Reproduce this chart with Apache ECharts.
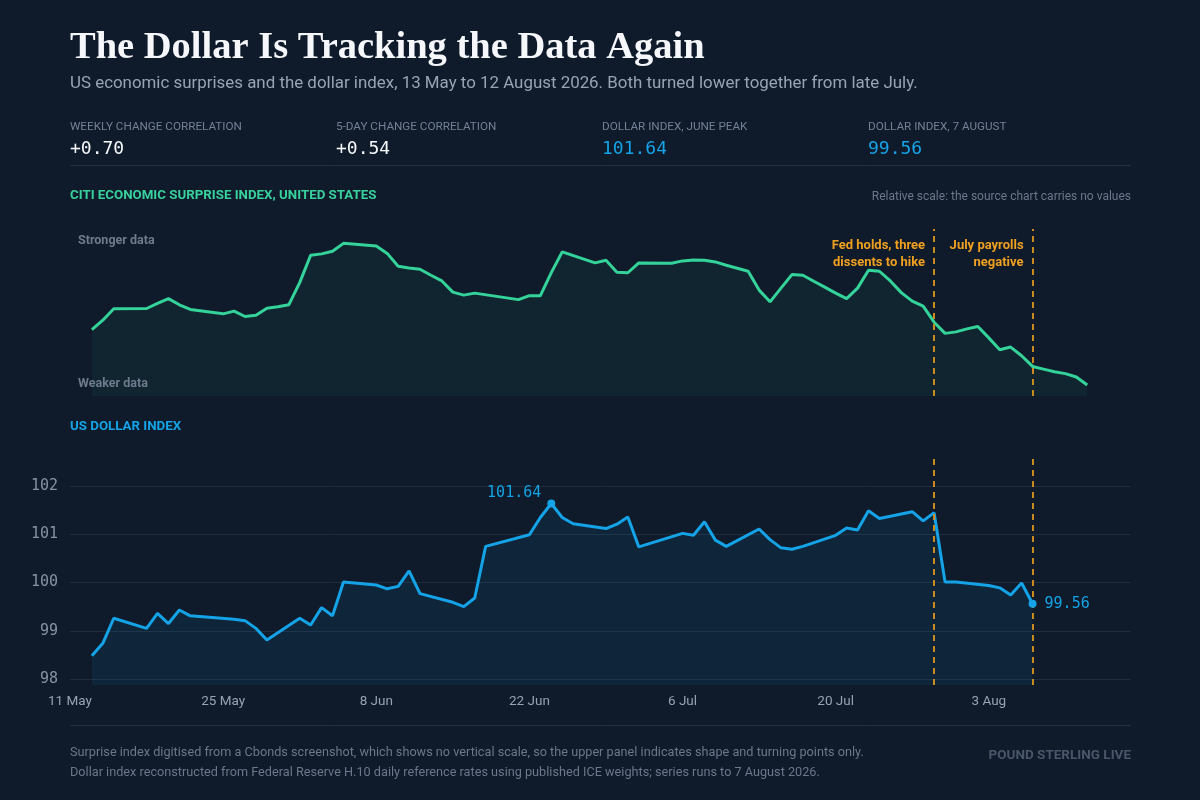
<!DOCTYPE html>
<html>
<head>
<meta charset="utf-8">
<title>The Dollar Is Tracking the Data Again</title>
<script src="https://cdn.jsdelivr.net/npm/echarts@6/dist/echarts.min.js"></script>
<style>
    html, body { margin: 0; padding: 0; background: #0f1a2a; }
    #chart { width: 1200px; height: 800px; }
</style>
</head>
<body>
<div id="chart"></div>
<script>
// x positions are days counted from 11 May 2026
const startDate = '2026-05-11';
const xTickLabels = ['11 May', '25 May', '8 Jun', '22 Jun', '6 Jul', '20 Jul', '3 Aug'];
const yTickValues = [98, 99, 100, 101, 102];

// Citi surprise index: relative level, 0 = bottom, 100 = top
const surpriseDates = [
    '2026-05-13', '2026-05-14', '2026-05-15', '2026-05-18', '2026-05-19', '2026-05-20', '2026-05-21', '2026-05-22',
    '2026-05-25', '2026-05-26', '2026-05-27', '2026-05-28', '2026-05-29', '2026-05-30', '2026-05-31',
    '2026-06-01', '2026-06-02', '2026-06-03', '2026-06-04', '2026-06-05', '2026-06-08', '2026-06-09', '2026-06-10',
    '2026-06-11', '2026-06-12', '2026-06-13', '2026-06-14', '2026-06-15', '2026-06-16', '2026-06-17', '2026-06-21',
    '2026-06-22', '2026-06-23', '2026-06-24', '2026-06-25', '2026-06-28', '2026-06-29', '2026-06-30',
    '2026-07-01', '2026-07-02', '2026-07-05', '2026-07-06', '2026-07-07', '2026-07-08', '2026-07-09', '2026-07-10',
    '2026-07-11', '2026-07-12', '2026-07-13', '2026-07-14', '2026-07-15', '2026-07-16', '2026-07-17', '2026-07-18',
    '2026-07-19', '2026-07-20', '2026-07-21', '2026-07-22', '2026-07-23', '2026-07-24', '2026-07-25', '2026-07-26',
    '2026-07-27', '2026-07-28', '2026-07-29', '2026-07-30', '2026-07-31',
    '2026-08-01', '2026-08-02', '2026-08-03', '2026-08-04', '2026-08-05', '2026-08-06', '2026-08-07', '2026-08-08',
    '2026-08-09', '2026-08-10', '2026-08-11', '2026-08-12'
];
const surpriseLevels = [
    39.8, 45.4, 52.2, 52.4, 55.4, 58.3, 54.6, 51.8,
    49.2, 50.8, 47.6, 48.4, 52.6, 53.4, 54.6,
    67.9, 84.3, 85.1, 86.7, 91.4, 89.8, 85.4, 77.7,
    76.7, 75.9, 72.3, 68.9, 62.2, 60.4, 61.6, 57.7,
    60.1, 60.1, 73.9, 86.3, 79.7, 81.3, 74.1,
    73.8, 79.7, 79.5, 80.9, 81.5, 81.3, 80.3, 78.3,
    76.5, 74.7, 63.4, 56.4, 64.6, 72.7, 72.3, 68.7,
    65.2, 61.6, 58.3, 64.6, 75.3, 74.7, 68.9, 61.9,
    56.8, 53.8, 44.2, 37.5, 38.4,
    40.2, 41.6, 34.8, 27.7, 29.3, 24.1, 17.7, 16.1,
    14.5, 13.4, 11.4, 6.6
];

// US dollar index, daily
const dxyDates = [
    '2026-05-13', '2026-05-14', '2026-05-15', '2026-05-18', '2026-05-19', '2026-05-20', '2026-05-21', '2026-05-22',
    '2026-05-26', '2026-05-27', '2026-05-28', '2026-05-29',
    '2026-06-01', '2026-06-02', '2026-06-03', '2026-06-04', '2026-06-05', '2026-06-08', '2026-06-09', '2026-06-10',
    '2026-06-11', '2026-06-12', '2026-06-15', '2026-06-16', '2026-06-17', '2026-06-18', '2026-06-22', '2026-06-23',
    '2026-06-24', '2026-06-25', '2026-06-26', '2026-06-29', '2026-06-30',
    '2026-07-01', '2026-07-02', '2026-07-06', '2026-07-07', '2026-07-08', '2026-07-09', '2026-07-10', '2026-07-13',
    '2026-07-14', '2026-07-15', '2026-07-16', '2026-07-17', '2026-07-20', '2026-07-21', '2026-07-22', '2026-07-23',
    '2026-07-24', '2026-07-27', '2026-07-28', '2026-07-29', '2026-07-30', '2026-07-31',
    '2026-08-03', '2026-08-04', '2026-08-05', '2026-08-06', '2026-08-07'
];
const dxyValues = [
    98.48, 98.74, 99.26, 99.05, 99.36, 99.15, 99.43, 99.31,
    99.24, 99.21, 99.05, 98.81,
    99.26, 99.12, 99.48, 99.31, 100.01, 99.95, 99.87, 99.92,
    100.24, 99.77, 99.59, 99.50, 99.68, 100.75, 100.99, 101.35,
    101.64, 101.35, 101.22, 101.12, 101.21,
    101.36, 100.74, 101.02, 100.98, 101.26, 100.88, 100.75, 101.11,
    100.89, 100.72, 100.69, 100.75, 100.98, 101.13, 101.09, 101.49,
    101.33, 101.47, 101.28, 101.45, 100.01, 100.01,
    99.94, 99.89, 99.74, 99.99, 99.56
];

const eventDates = ['2026-07-29', '2026-08-07'];
const eventNotes = ['Fed holds, three\ndissents to hike', 'July payrolls\nnegative'];

const statLabels = ['WEEKLY CHANGE CORRELATION', '5-DAY CHANGE CORRELATION', 'DOLLAR INDEX, JUNE PEAK', 'DOLLAR INDEX, 7 AUGUST'];
const statValues = ['+0.70', '+0.54', '101.64', '99.56'];

const footNotes = [
    'Surprise index digitised from a Cbonds screenshot, which shows no vertical scale, so the upper panel indicates shape and turning points only.',
    'Dollar index reconstructed from Federal Reserve H.10 daily reference rates using published ICE weights; series runs to 7 August 2026.'
];

const green = '#34d399';
const blue = '#14a3e6';
const amber = '#f0a020';
const dashAmber = '#c98a1e';
const sans = '"Liberation Sans Narrow", "Roboto", sans-serif';
const mono = '"DejaVu Sans Mono", monospace';

const dayOf = (d) => Math.round((Date.parse(d) - Date.parse(startDate)) / 864e5);

const surpriseData = surpriseDates.map((d, i) => [dayOf(d), surpriseLevels[i]]);
const dxyData = dxyDates.map((d, i) => [dayOf(d), dxyValues[i]]);

// peak and last point of the dollar
let peakIdx = 0;
dxyValues.forEach((v, i) => { if (v > dxyValues[peakIdx]) peakIdx = i; });
const lastIdx = dxyValues.length - 1;

const eventLines = eventDates.map((d) => ({ xAxis: dayOf(d) }));

const xAxisBase = {
    type: 'value',
    min: 0,
    max: 97,
    interval: 14,
    splitLine: { show: false },
    axisLine: { show: false },
    axisTick: { show: false }
};

const markLineBase = {
    silent: true,
    symbol: 'none',
    label: { show: false },
    lineStyle: { color: dashAmber, width: 2, type: [6, 5] },
    data: eventLines
};

// header, stat row, footer
const graphics = [
    { type: 'text', x: 70, y: 48, style: { text: 'The Dollar Is Tracking the Data Again', fill: '#f5f7fa', font: 'bold 38.5px "Liberation Serif", serif', textVerticalAlign: 'middle' } },
    { type: 'text', x: 70, y: 84, style: { text: 'US economic surprises and the dollar index, 13 May to 12 August 2026. Both turned lower together from late July.', fill: '#98a3b3', font: '16.9px Roboto, sans-serif', textVerticalAlign: 'middle' } },
    { type: 'line', shape: { x1: 70, y1: 165.5, x2: 1131, y2: 165.5 }, style: { stroke: '#243246', lineWidth: 1 } },
    { type: 'text', x: 70, y: 196, style: { text: 'CITI ECONOMIC SURPRISE INDEX, UNITED STATES', fill: '#38d09c', font: 'bold 13.3px ' + sans, textVerticalAlign: 'middle' } },
    { type: 'text', x: 1131, y: 197, style: { text: 'Relative scale: the source chart carries no values', fill: '#6b778a', font: '12px ' + sans, textAlign: 'right', textVerticalAlign: 'middle' } },
    { type: 'text', x: 78, y: 241, z: 10, style: { text: 'Stronger data', fill: '#6e7a8c', font: 'bold 12.5px ' + sans, textVerticalAlign: 'middle' } },
    { type: 'text', x: 78, y: 384, z: 10, style: { text: 'Weaker data', fill: '#6e7a8c', font: 'bold 12.5px ' + sans, textVerticalAlign: 'middle' } },
    { type: 'text', x: 70, y: 427, style: { text: 'US DOLLAR INDEX', fill: blue, font: 'bold 13.3px ' + sans, textVerticalAlign: 'middle' } },
    { type: 'line', shape: { x1: 70, y1: 725.5, x2: 1131, y2: 725.5 }, style: { stroke: '#243246', lineWidth: 1 } },
    { type: 'text', x: 1131, y: 756, style: { text: 'POUND STERLING LIVE', fill: '#4a576a', font: 'bold 13.5px ' + sans, textAlign: 'right', textVerticalAlign: 'middle' } }
];
statLabels.forEach((s, i) => {
    graphics.push({ type: 'text', x: 70 + i * 266, y: 127, style: { text: s, fill: '#738196', font: '11.7px ' + sans, textVerticalAlign: 'middle' } });
    graphics.push({ type: 'text', x: 70 + i * 266, y: 149, style: { text: statValues[i], fill: i < 2 ? '#f5f7fa' : blue, font: '18px ' + mono, textVerticalAlign: 'middle' } });
});
footNotes.forEach((s, i) => {
    graphics.push({ type: 'text', x: 70, y: 753 + i * 20, style: { text: s, fill: '#6b778a', font: '12.7px ' + sans, textVerticalAlign: 'middle' } });
});

const chart = echarts.init(document.getElementById('chart'), null, { renderer: 'canvas' });

chart.setOption({
    backgroundColor: '#0f1a2a',
    animation: false,
    graphic: graphics,
    grid: [
        { left: 70, right: 69, top: 229, bottom: 404 },
        { left: 70, right: 69, top: 456, bottom: 115 }
    ],
    xAxis: [
        Object.assign({ gridIndex: 0, axisLabel: { show: false } }, xAxisBase),
        Object.assign({
            gridIndex: 1,
            axisLabel: {
                color: '#97a2b2',
                fontFamily: 'Roboto, sans-serif',
                fontSize: 13.5,
                margin: 10,
                formatter: (v) => (v % 14 === 0 && xTickLabels[v / 14]) || ''
            }
        }, xAxisBase)
    ],
    yAxis: [
        { gridIndex: 0, type: 'value', min: 0, max: 100, show: false, splitLine: { show: false } },
        {
            gridIndex: 1,
            type: 'value',
            min: 97.875,
            max: 102.625,
            splitNumber: 5,
            axisLine: { show: false },
            axisTick: { show: false },
            axisLabel: {
                color: '#8792a3',
                fontFamily: mono,
                fontSize: 15,
                margin: 12,
                formatter: (v) => (yTickValues.indexOf(Math.round(v * 1000) / 1000) >= 0 ? String(Math.round(v)) : '')
            },
            splitLine: { show: true, showMinLine: false, showMaxLine: false, lineStyle: { color: '#1f2c3d', width: 1 } }
        }
    ],
    series: [
        {
            name: 'Citi economic surprise index',
            type: 'line',
            xAxisIndex: 0,
            yAxisIndex: 0,
            data: surpriseData,
            symbol: 'none',
            lineStyle: { color: green, width: 3 },
            areaStyle: { color: 'rgba(52, 211, 153, 0.09)' },
            markLine: markLineBase,
            markPoint: {
                silent: true,
                symbol: 'circle',
                symbolSize: 0,
                itemStyle: { color: 'transparent' },
                label: {
                    show: true,
                    position: 'left',
                    distance: 9,
                    color: amber,
                    fontFamily: sans,
                    fontWeight: 'bold',
                    fontSize: 13,
                    lineHeight: 17,
                    align: 'right'
                },
                data: eventDates.map((d, i) => ({ coord: [dayOf(d), 85], label: { formatter: eventNotes[i] } }))
            }
        },
        {
            name: 'US dollar index',
            type: 'line',
            xAxisIndex: 1,
            yAxisIndex: 1,
            data: dxyData,
            symbol: 'none',
            lineStyle: { color: blue, width: 3 },
            areaStyle: { color: 'rgba(20, 163, 230, 0.12)', origin: 'start' },
            markLine: markLineBase,
            markPoint: {
                silent: true,
                symbol: 'circle',
                symbolSize: 8,
                itemStyle: { color: blue },
                label: {
                    show: true,
                    color: blue,
                    fontFamily: mono,
                    fontSize: 15
                },
                data: [
                    { coord: dxyData[peakIdx], label: { formatter: dxyValues[peakIdx].toFixed(2), position: 'left', distance: 6, offset: [0, -10] } },
                    { coord: dxyData[lastIdx], label: { formatter: dxyValues[lastIdx].toFixed(2), position: 'right', distance: 8 } }
                ]
            }
        }
    ]
});
</script>
</body>
</html>
